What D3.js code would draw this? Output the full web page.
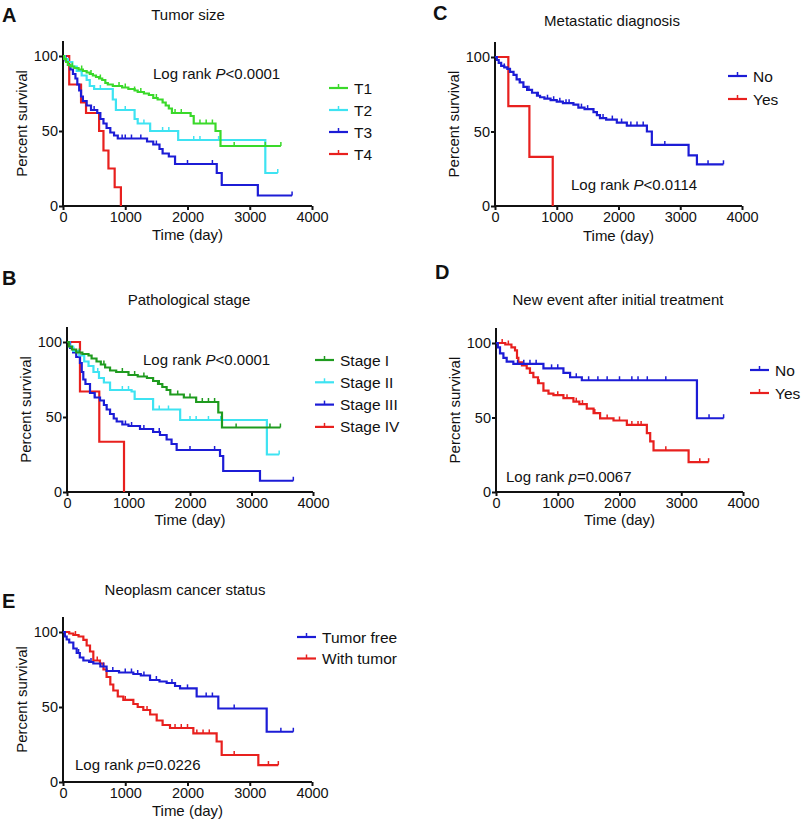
<!DOCTYPE html>
<html><head><meta charset="utf-8">
<script src="https://cdn.jsdelivr.net/npm/d3@7"></script>
<style>body{margin:0;background:#fff} text{font-family:"Liberation Sans",Arial,Helvetica,sans-serif;fill:#111}</style>
</head><body><svg id="c" width="805" height="828"></svg>
<script>
// ---------- DATA ----------
const xTicks = [0, 1000, 2000, 3000, 4000];
const yTicks = [0, 50, 100];

// Panel A – Tumor size
const labelsA = ["T1", "T2", "T3", "T4"];
const t1Steps = [[0,100],[20,98],[50,96],[80,94],[120,93],[180,92],[250,91],[320,90],[380,89],[430,88],[480,87],[530,86],[580,85],[630,84],[680,82],[720,81],[800,80],[950,79],[1050,78],[1150,77],[1200,76],[1300,75],[1380,74],[1450,72],[1520,71],[1600,69],[1650,67],[1700,65],[1750,62],[2050,60],[2100,55],[2450,50],[2530,40]];
const t1End = 3500;
const t1Cens = [150,300,450,600,900,1000,1150,1250,1500,1800,1900,2200,2300,2400,2750,3250,3500];
const t2Steps = [[0,100],[30,98],[80,96],[150,93],[220,90],[300,87],[380,84],[430,80],[500,78],[800,71],[850,64],[1150,58],[1200,55],[1400,50],[1850,44],[3250,22]];
const t2End = 3450;
const t2Cens = [600,1000,1300,1600,1700,2100,2200,2500,3450];
const t3Steps = [[0,100],[40,97],[80,94],[120,91],[160,88],[200,85],[230,81],[260,77],[290,73],[320,70],[380,67],[450,64],[550,62],[600,58],[650,55],[700,52],[760,49],[820,47],[880,45],[1350,43],[1450,41],[1550,38],[1600,35],[1700,33],[1800,28],[2470,22],[2550,14],[3130,7]];
const t3End = 3680;
const t3Cens = [500,950,1000,1100,1250,1500,2000,2400,3680];
const t4Steps = [[0,100],[100,81],[290,69],[370,62],[580,50],[650,37],[730,25],[830,12.5],[930,0]];
const t4End = 930;
const t4Cens = [];

// Panel B – Pathological stage
const labelsB = ["Stage I", "Stage II", "Stage III", "Stage IV"];
const s1Steps = [[0,100],[30,97],[80,95],[150,93],[250,92],[350,91],[400,89],[480,87],[550,85],[620,83],[700,81],[800,80],[1000,78],[1150,77],[1300,76],[1400,74],[1480,72],[1550,70],[1620,68],[1680,65],[1900,63],[2100,60],[2460,53],[2520,43]];
const s1End = 3470;
const s1Cens = [200,600,900,1100,1250,1500,1800,2000,2200,2300,2400,2750,3300,3470];
const s2Steps = [[0,100],[40,97],[100,94],[200,91],[280,87],[350,84],[430,80],[520,76],[600,73],[700,68],[1050,67],[1100,62],[1400,55],[1840,48],[3250,25]];
const s2End = 3450;
const s2Cens = [500,900,1000,1500,1650,2000,2100,2300,2500,3450];
const s3Steps = [[0,100],[50,96],[100,93],[150,90],[211,86],[240,80],[265,75],[300,72],[374,66],[450,63],[537,61],[600,58],[645,55],[700,52],[760,49],[808,47],[900,45],[1000,44],[1187,42],[1400,40],[1512,38],[1620,35],[1700,32],[1783,28],[2488,24],[2540,14],[3138,7.5]];
const s3End = 3680;
const s3Cens = [450,950,1050,1250,1500,2000,2400,3680];
const s4Steps = [[0,100],[211,67],[525,33.5],[927,0]];
const s4End = 927;
const s4Cens = [];

// Panel C – Metastatic diagnosis
const labelsC = ["No", "Yes"];
const cNoSteps = [[0,100],[30,98],[60,96],[100,94],[150,93],[200,92],[243,90],[300,88],[350,85],[400,83],[460,80],[520,78],[600,76],[680,74],[730,73],[800,72],[900,71],[1000,70],[1100,69],[1270,68],[1350,66],[1450,65],[1595,63],[1650,61],[1700,59],[1800,58],[1973,56],[2135,54],[2460,50],[2540,41],[3135,34],[3270,28]];
const cNoEnd = 3700;
const cNoCens = [150,400,550,700,850,950,1050,1150,1200,1400,1500,1750,1900,2050,2200,2300,2400,2750,3450,3700];
const cYesSteps = [[0,100],[216,67],[557,33],[935,0]];
const cYesEnd = 935;
const cYesCens = [];

// Panel D – New event after initial treatment
const labelsD = ["No", "Yes"];
const dNoSteps = [[0,100],[30,97],[65,93],[120,90],[173,87.5],[281,86],[768,83],[1092,80],[1200,77],[1390,75],[3254,49.5]];
const dNoEnd = 3686;
const dNoCens = [350,450,550,650,900,1000,1300,1500,1650,1800,2000,2200,2300,2450,2750,3450,3686];
const dYesSteps = [[0,100],[150,99],[250,97],[308,95],[340,90],[362,87],[420,85],[497,83],[550,80],[605,77],[680,73],[768,68],[850,66],[930,65],[1092,63],[1254,60.6],[1350,59],[1470,56],[1580,53],[1686,49.4],[1903,48],[2119,45],[2443,39.5],[2497,34],[2551,28],[3119,20]];
const dYesEnd = 3443;
const dYesCens = [100,200,700,1000,1150,1300,1400,1600,1800,2000,2200,2300,2350,2750,3300,3443];

// Panel E – Neoplasm cancer status
const labelsE = ["Tumor free", "With tumor"];
const eFreeSteps = [[0,100],[30,97],[59,95],[100,93],[166,89],[220,86],[270,83],[327,81],[420,80],[487,79],[600,77],[700,74],[900,73],[1130,72],[1250,71],[1398,68],[1550,67],[1665,66],[1800,64],[1880,62.4],[2147,57],[2495,49],[3272,33.5]];
const eFreeEnd = 3700;
const eFreeCens = [250,450,650,800,1000,1100,1200,1300,1500,1750,2000,2300,2400,2750,3500,3700];
const eTumSteps = [[0,100],[100,99],[166,98],[250,97],[327,94.7],[380,91],[434,87],[487,81],[594,79],[650,75],[700,70],[760,65],[808,61],[880,57],[969,54.7],[1130,52],[1200,50],[1290,48],[1400,45],[1505,41],[1600,38],[1719,36],[2094,32.4],[2468,27],[2549,18],[3138,11.3]];
const eTumEnd = 3459;
const eTumCens = [200,550,1000,1350,1800,1900,2000,2150,2250,2350,2750,3300,3459];

const titles = ["Tumor size","Pathological stage","Metastatic diagnosis","New event after initial treatment","Neoplasm cancer status"];
const pLabels = [["P","<0.0001"],["P","<0.0001"],["P","<0.0114"],["p","=0.0067"],["p","=0.0226"]];
const letters = ["A","B","C","D","E"];

// ---------- LAYOUT ----------
const GREEN="#3ad92a", DGREEN="#1f9b1f", CYAN="#3ee3f2", BLUE="#1c1cd6", RED="#e8201e";
const panels = [
  {x0:63,x1:312,y0:206,y100:56, title:[188,20], letter:[2,22], xlab:240, p:[153,79], leg:{x:329,y:88,dy:22},
   series:[{s:t1Steps,e:t1End,c:t1Cens,col:GREEN},{s:t2Steps,e:t2End,c:t2Cens,col:CYAN},{s:t3Steps,e:t3End,c:t3Cens,col:BLUE},{s:t4Steps,e:t4End,c:t4Cens,col:RED}], labels:labelsA},
  {x0:67,x1:313,y0:492,y100:342, title:[189,305], letter:[2,285], xlab:525, p:[143,365], leg:{x:315,y:360,dy:22.3},
   series:[{s:s1Steps,e:s1End,c:s1Cens,col:DGREEN},{s:s2Steps,e:s2End,c:s2Cens,col:CYAN},{s:s3Steps,e:s3End,c:s3Cens,col:BLUE},{s:s4Steps,e:s4End,c:s4Cens,col:RED}], labels:labelsB},
  {x0:495,x1:742,y0:206,y100:57, title:[612,26], letter:[433,20], xlab:241, p:[571,190], leg:{x:728,y:76,dy:23},
   series:[{s:cNoSteps,e:cNoEnd,c:cNoCens,col:BLUE},{s:cYesSteps,e:cYesEnd,c:cYesCens,col:RED}], labels:labelsC},
  {x0:496,x1:743,y0:492,y100:343, title:[618,305], letter:[435,279], xlab:525, p:[506,482], leg:{x:750,y:370,dy:23},
   series:[{s:dNoSteps,e:dNoEnd,c:dNoCens,col:BLUE},{s:dYesSteps,e:dYesEnd,c:dYesCens,col:RED}], labels:labelsD},
  {x0:63,x1:312,y0:782,y100:632, title:[185,595], letter:[2,608], xlab:816, p:[75,770], leg:{x:297,y:637,dy:21.5},
   series:[{s:eFreeSteps,e:eFreeEnd,c:eFreeCens,col:BLUE},{s:eTumSteps,e:eTumEnd,c:eTumCens,col:RED}], labels:labelsE}
];

const svg = d3.select("#c");
const FS = 15, TFS = 14.5, LFS = 15.5;

function survAt(steps, t){ let v=steps[0][1]; for(const s of steps){ if(s[0]<=t) v=s[1]; } return v; }

panels.forEach((P,i)=>{
  const x = d3.scaleLinear().domain([0,4000]).range([P.x0,P.x1]);
  const y = d3.scaleLinear().domain([0,100]).range([P.y0,P.y100]);
  const g = svg.append("g");

  g.append("text").attr("x",P.letter[0]).attr("y",P.letter[1]).attr("font-size",20).attr("font-weight","bold").text(letters[i]);
  g.append("text").attr("x",P.title[0]).attr("y",P.title[1]).attr("text-anchor","middle").attr("font-size",FS).text(titles[i]);

  const xa = g.append("g").attr("transform",`translate(0,${P.y0})`)
    .call(d3.axisBottom(x).tickValues(xTicks).tickSize(4).tickSizeOuter(0).tickPadding(2).tickFormat(d3.format("d")));
  const ya = g.append("g").attr("transform",`translate(${P.x0},0)`)
    .call(d3.axisLeft(y).tickValues(yTicks).tickSize(4).tickSizeOuter(0).tickPadding(1));
  ya.select(".domain").attr("d",`M0,${y(0)}V${y(110)}`);
  [xa,ya].forEach(a=>{
    a.selectAll(".domain").attr("stroke","#111").attr("stroke-width",2);
    a.selectAll(".tick line").attr("stroke","#111").attr("stroke-width",2);
    a.selectAll(".tick text").attr("font-size",TFS).attr("fill","#111").attr("font-family",'"Liberation Sans",Arial,sans-serif');
  });
  xa.select(".domain").attr("d",`M${P.x0-1},0H${P.x1}`);

  g.append("text").attr("x",(P.x0+P.x1)/2).attr("y",P.xlab).attr("text-anchor","middle").attr("font-size",FS).text("Time (day)");
  g.append("text").attr("transform",`translate(${P.x0-36},${(y(0)+y(110))/2}) rotate(-90)`).attr("text-anchor","middle").attr("font-size",FS).text("Percent survival");

  const line = d3.line().x(d=>x(d[0])).y(d=>y(d[1])).curve(d3.curveStepAfter);
  P.series.slice().reverse().forEach(S=>{
    const pts = S.s.concat([[S.e, S.s[S.s.length-1][1]]]);
    g.append("path").attr("d",line(pts)).attr("fill","none").attr("stroke",S.col).attr("stroke-width",2.2).attr("stroke-linejoin","miter");
    g.selectAll(null).data(S.c).enter().append("line")
      .attr("x1",d=>x(d)).attr("x2",d=>x(d))
      .attr("y1",d=>y(survAt(S.s,d))).attr("y2",d=>y(survAt(S.s,d))-4)
      .attr("stroke",S.col).attr("stroke-width",1.5);
  });

  const pt = g.append("text").attr("x",P.p[0]).attr("y",P.p[1]).attr("font-size",FS);
  pt.append("tspan").text("Log rank ");
  pt.append("tspan").attr("font-style","italic").text(pLabels[i][0]);
  pt.append("tspan").text(pLabels[i][1]);

  P.labels.forEach((lab,k)=>{
    const ly = P.leg.y + k*P.leg.dy, col = P.series[k].col;
    g.append("line").attr("x1",P.leg.x).attr("x2",P.leg.x+19).attr("y1",ly).attr("y2",ly).attr("stroke",col).attr("stroke-width",2.2);
    g.append("line").attr("x1",P.leg.x+9.5).attr("x2",P.leg.x+9.5).attr("y1",ly).attr("y2",ly-4).attr("stroke",col).attr("stroke-width",1.5);
    g.append("text").attr("x",P.leg.x+25).attr("y",ly+5.5).attr("font-size",LFS).text(lab);
  });
});
</script></body></html>
